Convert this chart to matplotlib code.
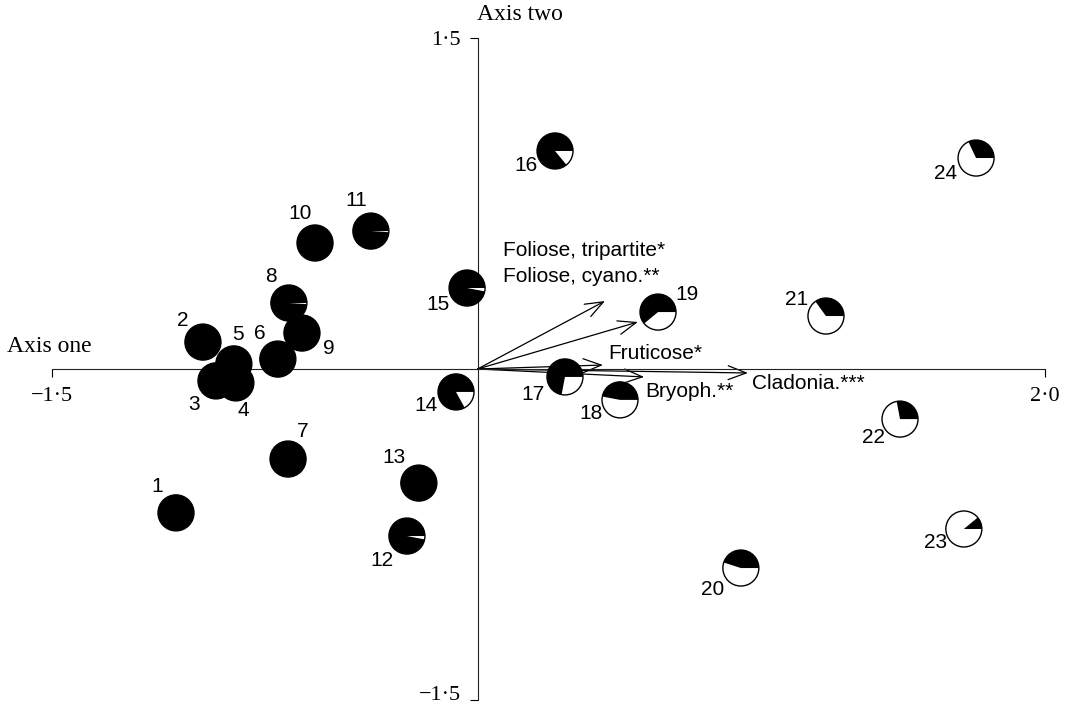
import matplotlib
matplotlib.use("Agg")
import matplotlib.pyplot as plt
import matplotlib.transforms as mtransforms
from matplotlib.patches import Wedge, Circle

# site scores (axis one, axis two) and fraction of black in each pie
sites = [str(i) for i in range(1, 25)]
axis_one = [-1.063, -0.968, -0.922, -0.852, -0.859, -0.704, -0.668, -0.665,
            -0.619, -0.573, -0.376, -0.249, -0.207, -0.076, -0.037, 0.273,
            0.308, 0.502, 0.636, 0.928, 1.228, 1.489, 1.714, 1.757]
axis_two = [-0.652, 0.122, -0.054, -0.063, 0.023, 0.045, -0.408, 0.299,
            0.163, 0.571, 0.625, -0.757, -0.517, -0.104, 0.367, 0.988,
            -0.036, -0.140, 0.258, -0.902, 0.240, -0.227, -0.725, 0.956]
black_frac = [1.0, 1.0, 1.0, 1.0, 1.0, 1.0, 1.0, 0.99, 1.0, 1.0, 0.99, 0.97,
              1.0, 0.83, 0.97, 0.86, 0.72, 0.47, 0.61, 0.45, 0.35, 0.28,
              0.11, 0.32]

# label offsets in pixels (dx, dy) from the pie centre
label_off = [(-19, 26), (-20, 22), (-22, -24), (7, -28), (4, 29), (-18, 26),
             (15, 28), (-18, 27), (27, -15), (-15, 29), (-15, 31), (-25, -24),
             (-25, 26), (-30, -14), (-29, -16), (-29, -15), (-32, -18),
             (-29, -14), (29, 18), (-28, -21), (-29, 17), (-27, -18),
             (-28, -14), (-30, -15)]

# vectors
vec_names = ["Foliose, tripartite*", "Foliose, cyano.**", "Fruticose*",
             "Bryoph.**", "Cladonia.***"]
vec_x = [0.449, 0.565, 0.442, 0.587, 0.953]
vec_y = [0.308, 0.213, 0.018, -0.036, -0.018]
# label positions for vectors (data coords, left/centre)
vec_lab_x = [0.090, 0.090, 0.460, 0.590, 0.968]
vec_lab_y = [0.535, 0.418, 0.068, -0.100, -0.064]

W, H = 1067, 710
fig = plt.figure(figsize=(W / 100, H / 100), dpi=100)
ax = fig.add_axes([52 / W, (H - 700) / H, (1045 - 52) / W, (700 - 38) / H])
ax.set_xlim(-1.5, 2.0)
ax.set_ylim(-1.5, 1.5)

for s in ["top", "right"]:
    ax.spines[s].set_visible(False)
ax.spines["left"].set_position(("data", 0))
ax.spines["bottom"].set_position(("data", 0))
for s in ["left", "bottom"]:
    ax.spines[s].set_linewidth(0.8)
    ax.spines[s].set_color("#222222")

serif = "Liberation Serif"
sans = "Liberation Sans"

ax.set_xticks([-1.5, 2.0])
ax.set_xticklabels(["\u22121\u00b75", "2\u00b70"], fontfamily=serif, fontsize=16)
ax.set_yticks([-1.5, 1.5])
ax.set_yticklabels(["\u22121\u00b75", "1\u00b75"], fontfamily=serif, fontsize=16)
ax.tick_params(axis="x", direction="out", length=6, width=0.8, pad=7)
ax.tick_params(axis="y", direction="out", length=6, width=0.8, pad=6)

# nudge the bottom y label up so it stays inside the picture
lab = ax.get_yticklabels()[0]
lab.set_transform(lab.get_transform()
                  + mtransforms.ScaledTranslation(0, 5 / 72, fig.dpi_scale_trans))

fig.text(7 / W, 1 - 347 / H, "Axis one", fontfamily=serif, fontsize=17,
         ha="left", va="center")
fig.text(477 / W, 1 - 15 / H, "Axis two", fontfamily=serif, fontsize=17,
         ha="left", va="center")

# arrows
for vx, vy in zip(vec_x, vec_y):
    ax.annotate("", xy=(vx, vy), xytext=(0, 0),
                arrowprops=dict(arrowstyle="->,head_length=1.3,head_width=0.5",
                                lw=0.9, color="black", shrinkA=0, shrinkB=0),
                zorder=2)
for name, lx, ly in zip(vec_names, vec_lab_x, vec_lab_y):
    ax.text(lx, ly, name, fontfamily=sans, fontsize=15, ha="left", va="center")

# pies
r = 0.18
for i, (xi, yi, f) in enumerate(zip(axis_one, axis_two, black_frac)):
    tr = fig.dpi_scale_trans + mtransforms.ScaledTranslation(xi, yi, ax.transData)
    c = Circle((0, 0), r, facecolor="white", edgecolor="black", lw=1.0,
               transform=tr, zorder=3 + i * 0.01, clip_on=False)
    w = Wedge((0, 0), r, 0, 360 * f, facecolor="black", edgecolor="none",
              transform=tr, zorder=3 + i * 0.01 + 0.005, clip_on=False)
    ax.add_artist(c)
    ax.add_artist(w)

for name, xi, yi, (dx, dy) in zip(sites, axis_one, axis_two, label_off):
    ax.annotate(name, (xi, yi), xytext=(dx * 0.72, dy * 0.72),
                textcoords="offset points", ha="center", va="center",
                fontfamily=sans, fontsize=15, zorder=6)

fig.savefig("out.png", dpi=100)
